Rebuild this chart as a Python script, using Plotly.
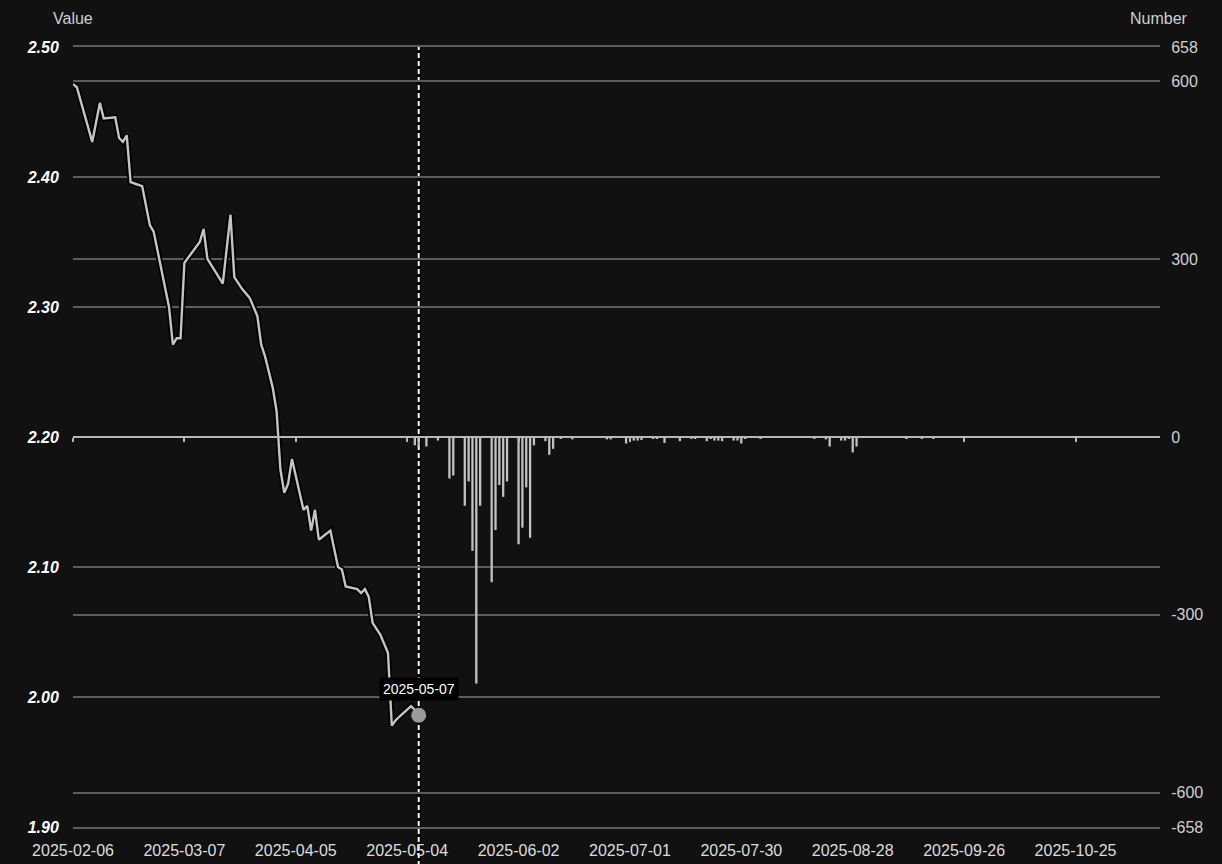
import plotly.graph_objects as go

# ---- data ----
line_dates = ["2025-02-06","2025-02-07","2025-02-11","2025-02-13","2025-02-14","2025-02-17","2025-02-18",
              "2025-02-19","2025-02-20","2025-02-21","2025-02-22","2025-02-24","2025-02-26","2025-02-27",
              "2025-03-03","2025-03-04","2025-03-05","2025-03-06","2025-03-07","2025-03-11","2025-03-12",
              "2025-03-13","2025-03-17","2025-03-19","2025-03-20","2025-03-22","2025-03-24","2025-03-26",
              "2025-03-27","2025-03-28","2025-03-30","2025-03-31","2025-04-01","2025-04-02","2025-04-03",
              "2025-04-04","2025-04-07","2025-04-08","2025-04-09","2025-04-10","2025-04-11","2025-04-14",
              "2025-04-16","2025-04-17","2025-04-18","2025-04-21","2025-04-22","2025-04-23","2025-04-24",
              "2025-04-25","2025-04-27","2025-04-28","2025-04-29","2025-04-30","2025-05-01","2025-05-02",
              "2025-05-05","2025-05-06","2025-05-07"]
line_values = [2.4715,2.469,2.427,2.457,2.445,2.446,2.430,
               2.427,2.432,2.396,2.395,2.393,2.363,2.358,
               2.300,2.271,2.276,2.276,2.334,2.350,2.360,
               2.337,2.318,2.371,2.323,2.314,2.307,2.293,
               2.271,2.262,2.238,2.220,2.175,2.157,2.164,
               2.183,2.144,2.147,2.128,2.144,2.121,2.128,
               2.100,2.098,2.085,2.083,2.080,2.083,2.077,
               2.057,2.048,2.041,2.034,1.978,1.982,1.985,
               1.993,1.990,1.986]

bar_dates = ["2025-05-06","2025-05-07","2025-05-09","2025-05-12","2025-05-15","2025-05-16","2025-05-19",
             "2025-05-20","2025-05-21","2025-05-22","2025-05-23","2025-05-26","2025-05-27","2025-05-28",
             "2025-05-29","2025-05-30","2025-06-02","2025-06-03","2025-06-04","2025-06-05","2025-06-06",
             "2025-06-09","2025-06-10","2025-06-11","2025-06-13","2025-06-16","2025-06-25","2025-06-26",
             "2025-06-30","2025-07-02","2025-07-03","2025-07-04","2025-07-07","2025-07-08","2025-07-10",
             "2025-07-14","2025-07-17","2025-07-18","2025-07-21","2025-07-22","2025-07-23","2025-07-24",
             "2025-07-25","2025-07-28","2025-07-29","2025-07-30","2025-07-31","2025-08-04","2025-08-18",
             "2025-08-21","2025-08-22","2025-08-25","2025-08-26","2025-08-27","2025-08-28","2025-08-29",
             "2025-09-11","2025-09-15","2025-09-18"]
bar_values = [-14,-17,-16,-6,-70,-65,-116,
              -75,-192,-416,-116,-245,-157,-81,
              -101,-75,-181,-153,-85,-170,-14,
              -7,-30,-20,-3,-4,-4,-4,
              -11,-6,-6,-5,-3,-3,-10,
              -7,-3,-3,-7,-3,-6,-6,
              -7,-6,-6,-11,-3,-3,-3,
              -4,-16,-6,-6,-3,-26,-16,
              -3,-3,-3]

x_ticks = ["2025-02-06","2025-03-07","2025-04-05","2025-05-04","2025-06-02","2025-07-01",
           "2025-07-30","2025-08-28","2025-09-26","2025-10-25"]
x_range = ["2025-02-06","2025-11-16"]
y_left_range = [1.90, 2.50]
y_right_ticks = [-658, -600, -300, 0, 300, 600, 658]
hover_date = "2025-05-07"

BG = "#111111"
GRID = "#5c5c5c"
FONT = "Liberation Sans, Arial, sans-serif"

fig = go.Figure()

# bars (Number)
fig.add_trace(go.Bar(
    x=bar_dates, y=bar_values, xaxis="x2", yaxis="y2",
    width=0.6 * 86400000, marker=dict(color="#c2c2c2", line=dict(width=0)),
    hoverinfo="skip", showlegend=False,
))

# line shadow + line (Value)
fig.add_trace(go.Scatter(
    x=line_dates, y=line_values, mode="lines",
    line=dict(color="#000000", width=6), hoverinfo="skip", showlegend=False,
))
fig.add_trace(go.Scatter(
    x=line_dates, y=line_values, mode="lines",
    line=dict(color="#c4c4c4", width=2.4), showlegend=False,
))
# hovered point marker
fig.add_trace(go.Scatter(
    x=[line_dates[-1]], y=[line_values[-1]], mode="markers",
    marker=dict(color="#9a9a9a", size=15, symbol="circle", line=dict(width=0)),
    showlegend=False, hoverinfo="skip",
))

# crosshair
fig.add_shape(type="line", xref="x", yref="paper", x0=hover_date, x1=hover_date, y0=-0.05, y1=1,
              line=dict(color="#000000", width=4), layer="between")
fig.add_shape(type="line", xref="x", yref="paper", x0=hover_date, x1=hover_date, y0=-0.05, y1=1,
              line=dict(color="#ffffff", width=2, dash="5px,3px"), layer="between")

fig.add_annotation(x=hover_date, y=2.0065, xref="x", yref="y", text=hover_date, showarrow=False,
                   font=dict(color="#ffffff", size=14, family=FONT), bgcolor="#000000",
                   borderpad=3, yanchor="middle", xanchor="center")

fig.add_annotation(x=0, y=1.037, xref="paper", yref="paper", text="Value", showarrow=False,
                   font=dict(color="#cfcfcf", size=16, family=FONT), xanchor="center", yanchor="middle")
fig.add_annotation(x=0.999, y=1.037, xref="paper", yref="paper", text="Number", showarrow=False,
                   font=dict(color="#cfcfcf", size=16, family=FONT), xanchor="center", yanchor="middle")

fig.update_layout(
    width=1222, height=864,
    paper_bgcolor=BG, plot_bgcolor=BG,
    margin=dict(l=73, r=62, t=47, b=37),
    barmode="overlay",
    hovermode=False,
    font=dict(family=FONT, color="#dddddd", size=16),
    xaxis=dict(
        type="date", range=x_range, tickvals=x_ticks, ticktext=x_ticks, automargin=False,
        showgrid=False, zeroline=False, showline=True, mirror=True, linecolor=GRID, linewidth=1.5,
        ticks="outside", ticklen=8, tickcolor="rgba(0,0,0,0)",
        tickfont=dict(color="#dddddd", size=16, family=FONT),
    ),
    xaxis2=dict(
        type="date", overlaying="x", matches="x", anchor="free", position=0.5,
        tickvals=x_ticks, showticklabels=False, showgrid=False, zeroline=False,
        showline=True, linecolor="#b8b8b8", linewidth=2,
        ticks="outside", ticklen=4, tickcolor="#b8b8b8", tickwidth=1.5,
    ),
    yaxis=dict(
        range=y_left_range, dtick=0.1, tick0=1.9, automargin=False,
        tickformat=".2f", showgrid=True, gridcolor=GRID, gridwidth=1.5, zeroline=False,
        showline=False, ticks="outside", ticklen=10, tickcolor="rgba(0,0,0,0)",
        tickfont=dict(color="#ffffff", size=16, family=FONT, style="italic", weight="bold"),
    ),
    yaxis2=dict(
        overlaying="y", side="right", anchor="x", automargin=False,
        range=[-658, 658], tickvals=y_right_ticks, ticktext=[str(v) for v in y_right_ticks],
        showgrid=True, gridcolor=GRID, gridwidth=1.5, zeroline=False, showline=False,
        ticks="outside", ticklen=7, tickcolor="rgba(0,0,0,0)",
        tickfont=dict(color="#d0d0d0", size=16, family=FONT),
    ),
)

fig.write_html(
    "out.html",
    config={"displayModeBar": False},
    post_script="document.body.style.margin='0';document.body.style.background='#111111';"
                "document.documentElement.style.background='#111111';",
)
